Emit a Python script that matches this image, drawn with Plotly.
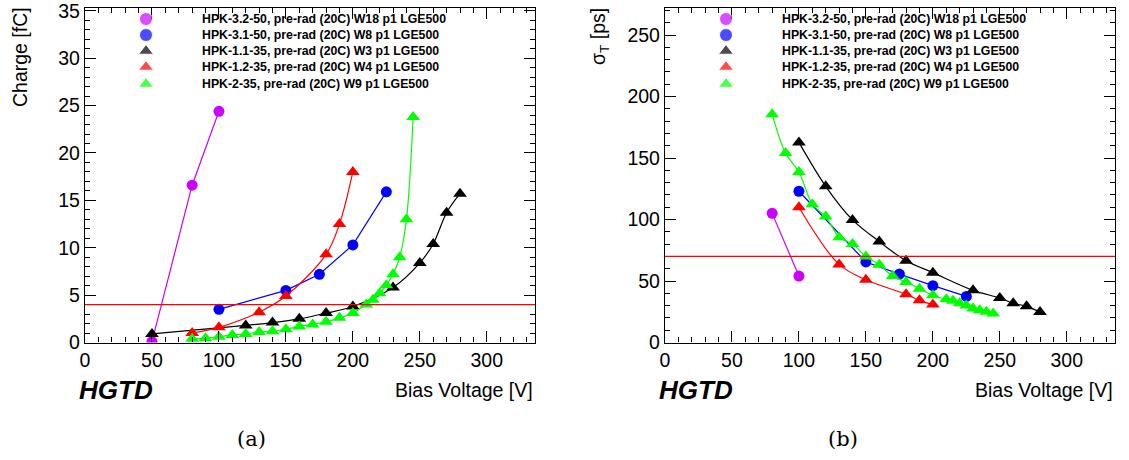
import plotly.graph_objects as go

# ---------------- data ----------------
series_names = [
    "HPK-3.2-50, pre-rad (20C) W18 p1 LGE500",
    "HPK-3.1-50, pre-rad (20C) W8 p1 LGE500",
    "HPK-1.1-35, pre-rad (20C) W3 p1 LGE500",
    "HPK-1.2-35, pre-rad (20C) W4 p1 LGE500",
    "HPK-2-35, pre-rad (20C) W9 p1 LGE500",
]

# (a) collected charge [fC]
v_32_q = [50, 80, 100]
q_32 = [0.1, 16.6, 24.4]
v_31_q = [100, 150, 175, 200, 225]
q_31 = [3.5, 5.5, 7.2, 10.3, 15.9]
v_11_q = [50, 120, 140, 160, 180, 200, 230, 250, 260, 270, 280]
q_11 = [0.9, 1.8, 2.1, 2.5, 3.1, 3.8, 5.8, 8.4, 10.4, 13.7, 15.7]
v_12_q = [80, 100, 130, 150, 180, 190, 200]
q_12 = [1.0, 1.6, 3.2, 4.9, 9.3, 12.5, 18.0]
v_2_q = [80, 90, 100, 110, 120, 130, 140, 150, 160, 170, 180, 190, 200,
         210, 215, 220, 225, 230, 235, 240, 245]
q_2 = [0.4, 0.45, 0.6, 0.8, 0.9, 1.1, 1.2, 1.4, 1.7, 1.9, 2.2, 2.6, 3.1,
       4.0, 4.5, 5.2, 6.05, 7.2, 9.0, 13.0, 23.8]

# (b) time resolution [ps]
v_32_t = [80, 100]
t_32 = [105, 54]
v_31_t = [100, 150, 175, 200, 225]
t_31 = [123, 65.5, 55.6, 46.2, 37.5]
v_11_t = [100, 120, 140, 160, 180, 200, 230, 250, 260, 270, 280]
t_11 = [162.7, 127, 99.7, 82.1, 66.5, 56.8, 42.4, 36.2, 31.9, 29.4, 24.8]
v_12_t = [100, 130, 150, 180, 190, 200]
t_12 = [110, 63.5, 51, 39.2, 34.3, 30.8]
v_2_t = [80, 90, 100, 110, 120, 130, 140, 150, 160, 170, 180, 190, 200,
         210, 215, 220, 225, 230, 235, 240, 245]
t_2 = [185.7, 154, 138.7, 112.4, 102.4, 85.6, 80, 70, 63.2, 54, 49.2, 43.8,
       38.4, 35.1, 34, 31.9, 30, 27.6, 26.2, 25.1, 23.5]

charge_threshold = 4.0
time_threshold = 70.0

x_range = [0, 336]
q_range = [0, 35.3]
t_range = [0, 272]

# ---------------- styles / layout ----------------
colors = ["#cc00ff", "#0000ff", "#000000", "#ff0000", "#00ff00"]
symbols = ["circle", "circle", "triangle-up", "triangle-up", "triangle-up"]
sizes = [11, 11, 12, 12, 12]
legend_sizes = [13, 13, 13, 13, 13]
shapes = ["linear", "linear", "spline", "spline", "spline"]

W, H = 1129, 460
legend_rows_px = [19, 35, 51, 67, 84]


def px_x(p):
    return p / W


def px_y(p):
    return 1 - p / H


panels = [
    dict(xa="x", ya="y", leg_x=146, text_x=200,
         data=[(v_32_q, q_32), (v_31_q, q_31), (v_11_q, q_11), (v_12_q, q_12), (v_2_q, q_2)]),
    dict(xa="x2", ya="y2", leg_x=726, text_x=780,
         data=[(v_32_t, t_32), (v_31_t, t_31), (v_11_t, t_11), (v_12_t, t_12), (v_2_t, t_2)]),
]

font_main = "Liberation Sans, Arial, sans-serif"
fig = go.Figure()
ann = []
for p in panels:
    for i, (xs, ys) in enumerate(p["data"]):
        fig.add_trace(go.Scatter(
            x=xs, y=ys, xaxis=p["xa"], yaxis=p["ya"], mode="lines+markers",
            line=dict(color=colors[i], width=1.2, shape=shapes[i]),
            marker=dict(color=colors[i], symbol=symbols[i], size=sizes[i]),
            name=series_names[i], showlegend=False, hoverinfo="skip"))
    # legend symbols on a pixel-based overlay axis
    fig.add_trace(go.Scatter(
        x=[p["leg_x"]] * len(series_names), y=legend_rows_px, xaxis="x3", yaxis="y3",
        mode="markers", marker=dict(color=colors, symbol=symbols, size=legend_sizes),
        showlegend=False, hoverinfo="skip"))
    for i, name in enumerate(series_names):
        ann.append(dict(text="<b>" + name + "</b>", x=px_x(p["text_x"]), y=px_y(legend_rows_px[i]),
                        xref="paper", yref="paper", showarrow=False,
                        xanchor="left", yanchor="middle",
                        font=dict(family=font_main, size=12.3, color="black")))

y_dom = [px_y(342.5), px_y(8)]
ax_common = dict(showgrid=False, zeroline=False, showline=True, linecolor="black",
                 linewidth=1.3, mirror="ticks", ticks="inside", ticklen=11,
                 tickwidth=1.2, tickcolor="black", ticklabeloverflow="allow",
                 tickfont=dict(family=font_main, size=19.5, color="black"))

fig.update_layout(
    width=W, height=H, autosize=False, margin=dict(l=0, r=0, t=0, b=0, autoexpand=False),
    paper_bgcolor="white", plot_bgcolor="rgba(0,0,0,0)", showlegend=False,
    xaxis=dict(domain=[px_x(85), px_x(535)], range=x_range, dtick=50, anchor="y",
               minor=dict(dtick=10, ticks="inside", ticklen=5, tickcolor="black"), **ax_common),
    yaxis=dict(domain=y_dom, range=q_range, dtick=5, anchor="x",
               minor=dict(dtick=1, ticks="inside", ticklen=5, tickcolor="black"), **ax_common),
    xaxis2=dict(domain=[px_x(665), px_x(1115)], range=x_range, dtick=50, anchor="y2",
                minor=dict(dtick=10, ticks="inside", ticklen=5, tickcolor="black"), **ax_common),
    yaxis2=dict(domain=y_dom, range=t_range, dtick=50, anchor="x2",
                minor=dict(dtick=10, ticks="inside", ticklen=5, tickcolor="black"), **ax_common),
    xaxis3=dict(domain=[0, 1], range=[0, W], visible=False, anchor="y3", fixedrange=True),
    yaxis3=dict(domain=[0, 1], range=[H, 0], visible=False, anchor="x3", fixedrange=True),
    shapes=[
        dict(type="line", xref="x domain", yref="y", x0=0, x1=1,
             y0=charge_threshold, y1=charge_threshold, line=dict(color="#ff0000", width=1.2)),
        dict(type="line", xref="x2 domain", yref="y2", x0=0, x1=1,
             y0=time_threshold, y1=time_threshold, line=dict(color="#ff0000", width=1.2)),
    ],
)

# y-axis titles
ann.append(dict(text="Charge [fC]", x=px_x(20), y=px_y(57), xref="paper", yref="paper",
                textangle=-90, showarrow=False, xanchor="center", yanchor="middle",
                font=dict(family=font_main, size=19.5, color="black")))
ann.append(dict(text="σ<sub>T</sub> [ps]", x=px_x(600), y=px_y(37), xref="paper", yref="paper",
                textangle=-90, showarrow=False, xanchor="center", yanchor="middle",
                font=dict(family=font_main, size=19.5, color="black")))
for xr, hx in [(535, 77), (1115, 657)]:
    ann.append(dict(text="Bias Voltage [V]", x=px_x(xr), y=px_y(390), xref="paper", yref="paper",
                    showarrow=False, xanchor="right", yanchor="middle",
                    font=dict(family=font_main, size=19.5, color="black")))
    ann.append(dict(text="<b><i>HGTD</i></b>", x=px_x(hx), y=px_y(390), xref="paper", yref="paper",
                    showarrow=False, xanchor="left", yanchor="middle",
                    font=dict(family=font_main, size=26, color="black")))
for cx, lab in [(251, "(a)"), (843, "(b)")]:
    ann.append(dict(text=lab, x=px_x(cx), y=px_y(439), xref="paper", yref="paper",
                    showarrow=False, xanchor="center", yanchor="middle",
                    font=dict(family="DejaVu Serif, Liberation Serif, serif", size=21, color="black")))
fig.update_layout(annotations=ann)

fig.write_html("out.html", config={"responsive": False})
